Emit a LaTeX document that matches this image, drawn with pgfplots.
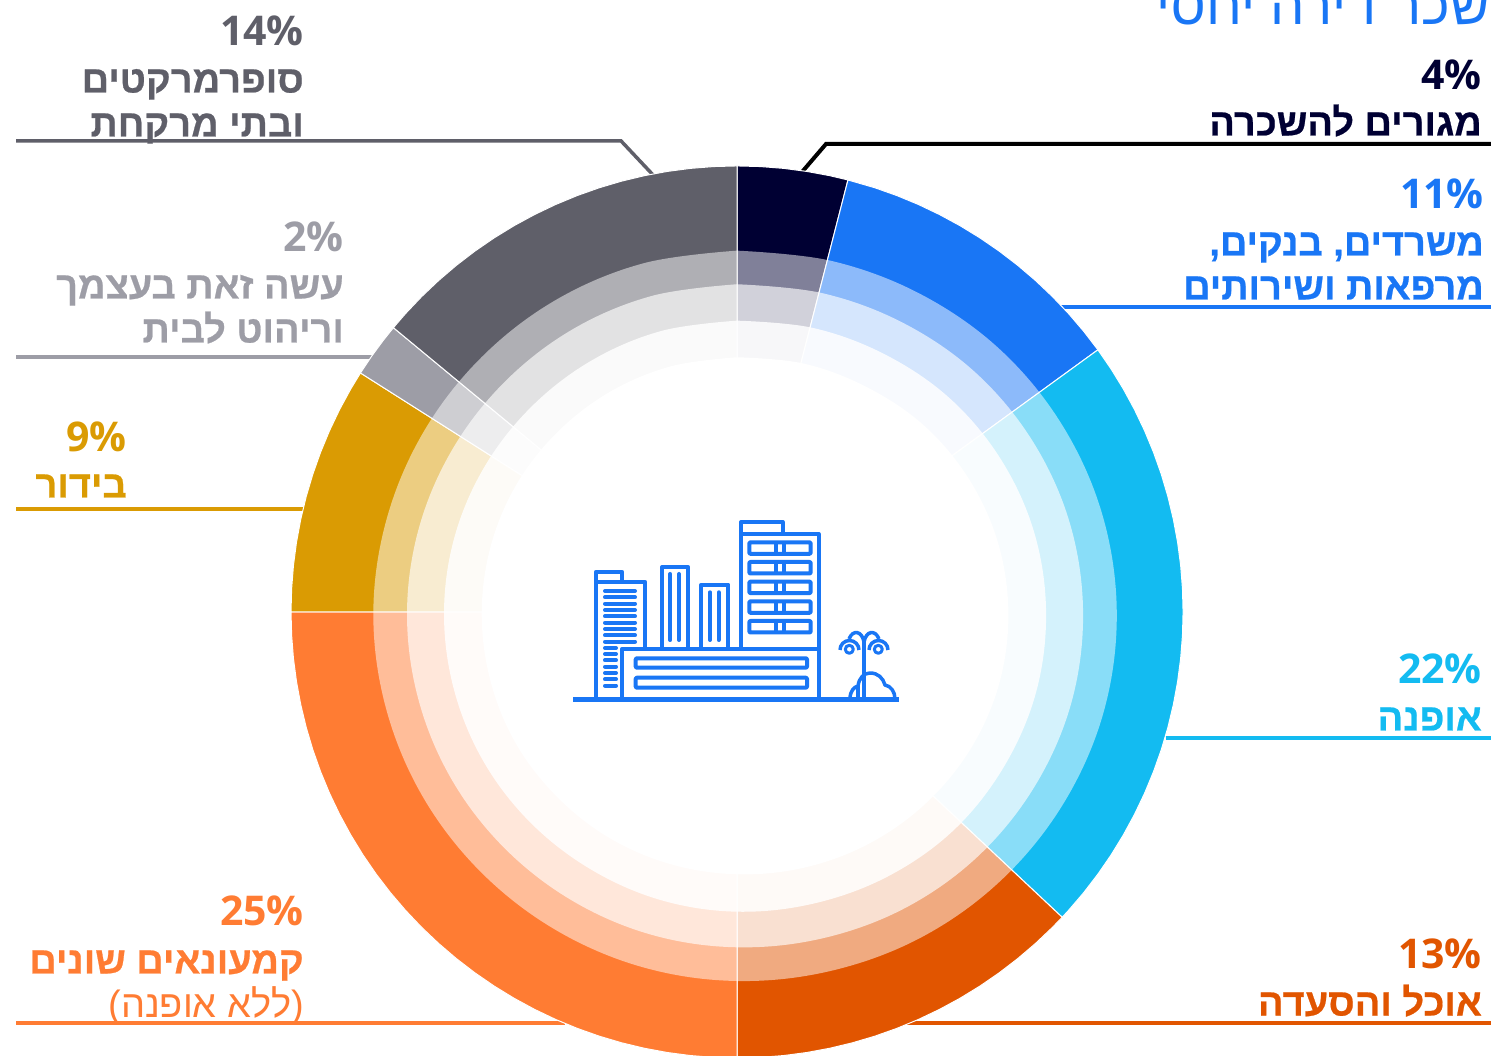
\documentclass[border=0pt]{standalone}
\usepackage{pgfplots}
\usepackage{pgfplotstable}
\usepackage{fontspec}
\pgfplotsset{compat=1.18}
\TeXXeTstate=1
\setmainfont{Open Sans}
\newfontfamily\heb[Script=Hebrew,BoldFeatures={FakeBold=0.6}]{Liberation Sans}
\definecolor{cnavy}{HTML}{000033}
\definecolor{cblue}{HTML}{1976F5}
\definecolor{ccyan}{HTML}{13BBF1}
\definecolor{cdor}{HTML}{E15500}
\definecolor{cora}{HTML}{FF7C33}
\definecolor{cgold}{HTML}{DA9B03}
\definecolor{cgray}{HTML}{9D9DA6}
\definecolor{cdgr}{HTML}{5F5F69}
\pgfplotstableread{
a r1 r2 r3 r4
90 361.3 327.7 291.3 254.7
75 363.5 330 294 257.2
60 367 333.4 297 259.6
45 371.5 337.9 301.5 264
30 375 341.4 304.8 267.3
15 378 344.4 307.6 270
0 379.7 346 309 271.3
-15 380 346.4 309.6 271.8
-30 378.5 345 308.5 270.8
-45 376.5 343.2 307.5 268.9
-60 374 340.5 304.5 266.7
-75 371 337.4 301.5 264.4
-90 369 335.3 299.7 262.3
-105 367.5 333.9 298 260.8
-120 366 332.4 296 259.5
-135 365 331.4 295 258
-150 364.5 330.9 294.3 257.3
-165 364 330.4 293.5 256
-180 363.7 330 293 255.3
-195 362.5 329 292.3 255
-210 361.5 327.8 291.3 254.8
-225 360.8 327 290.5 254.2
-240 360.8 327 290.5 254.2
-255 361 327.3 291 254.4
-270 361.3 327.7 291.3 254.7
}\rings
\newcommand{\pct}[4]{\node[anchor=base east,inner sep=0pt,text=#2] at (#3+2,#4) {\fontsize{41}{50}\selectfont\bfseries #1\%};}
\newcommand{\hb}[4]{\node[anchor=base east,inner sep=0pt,text=#2] at (#3+2,#4+0.5) {\fontsize{38}{44}\selectfont\bfseries\heb\beginR #1\endR};}
\begin{document}
\begin{tikzpicture}[x=1pt,y=1pt]
\path[use as bounding box] (0,0) rectangle (1491,1055);
\begin{axis}[at={(0,0)},anchor=south west,scale only axis,width=1491pt,height=1055pt,
  xmin=-737,xmax=754,ymin=-443,ymax=612,hide axis,enlargelimits=false]
% leader lines
\addplot[black,line width=4pt] coordinates {(754,468) (89,468) (65,440)};
\addplot[cblue,line width=3.5pt] coordinates {(754,305) (324,305)};
\addplot[ccyan,line width=3.5pt] coordinates {(754,-126) (429,-126)};
\addplot[cdor,line width=3.5pt] coordinates {(754,-411) (170,-411)};
\addplot[cora,line width=3.5pt] coordinates {(-721,-411) (-172,-411)};
\addplot[cgold,line width=3.5pt] coordinates {(-721,103) (-434,103)};
\addplot[cgray,line width=3.5pt] coordinates {(-721,255) (-365,255)};
\addplot[cdgr,line width=3.5pt] coordinates {(-721,471) (-116,471) (-84,437)};
% sectors: angle, radius
\pgfplotsset{sec/.style={data cs=polar,draw=white,line width=1pt,no markers}}
\addplot[sec,fill=cnavy] coordinates {(0,0)(90,446)(87,446)(84,446)(81,446)(78,446)(75.6,446)(0,0)};
\addplot[sec,fill=cblue] coordinates {(0,0)(75.6,446)(72,446)(69,446)(66,446)(63,446)(60,446)(57,446)(54,446)(51,446)(48,446)(45,446)(42,446)(39,446)(36,446)(0,0)};
\addplot[sec,fill=ccyan] coordinates {(0,0)(36,446)(33,446)(30,446)(27,446)(24,446)(21,446)(18,446)(15,446)(12,446)(9,446)(6,446)(3,446)(0,446)(-3,446)(-6,446)(-9,446)(-12,446)(-15,446)(-18,446)(-21,446)(-24,446)(-27,446)(-30,446)(-33,446)(-36,446)(-39,446)(-42,446)(-43.2,446)(0,0)};
\addplot[sec,fill=cdor] coordinates {(0,0)(-43.2,446)(-45,446)(-48,446)(-51,446)(-54,446)(-57,446)(-60,446)(-63,446)(-66,446)(-69,446)(-72,446)(-75,446)(-78,446)(-81,446)(-84,446)(-87,446)(-90,446)(0,0)};
\addplot[sec,fill=cora] coordinates {(0,0)(-90,446)(-93,446)(-96,446)(-99,446)(-102,446)(-105,446)(-108,446)(-111,446)(-114,446)(-117,446)(-120,446)(-123,446)(-126,446)(-129,446)(-132,446)(-135,446)(-138,446)(-141,446)(-144,446)(-147,446)(-150,446)(-153,446)(-156,446)(-159,446)(-162,446)(-165,446)(-168,446)(-171,446)(-174,446)(-177,446)(-180,446)(0,0)};
\addplot[sec,fill=cgold] coordinates {(0,0)(180,446)(177,446)(174,446)(171,446)(168,446)(165,446)(162,446)(159,446)(156,446)(153,446)(150,446)(147.6,446)(0,0)};
\addplot[sec,fill=cgray] coordinates {(0,0)(147.6,446)(145,446)(142.5,446)(140.4,446)(0,0)};
\addplot[sec,fill=cdgr] coordinates {(0,0)(140.4,446)(138,446)(135,446)(132,446)(129,446)(126,446)(123,446)(120,446)(117,446)(114,446)(111,446)(108,446)(105,446)(102,446)(99,446)(96,446)(93,446)(90,446)(0,0)};
% translucent rings
\pgfplotsset{rng/.style={data cs=polar,draw=none,fill=white,smooth,tension=0.61,no markers}}
\addplot[rng,fill opacity=0.5] table[x=a,y=r1] {\rings};
\addplot[rng,fill opacity=0.64] table[x=a,y=r2] {\rings};
\addplot[rng,fill opacity=0.84] table[x=a,y=r3] {\rings};
\addplot[rng] table[x=a,y=r4] {\rings};
\end{axis}
% texts and icon in image pixels
\begin{scope}[shift={(0,1055)},x=1pt,y=-1pt]
\node[anchor=base east,inner sep=0pt,text=cblue] at (1490,25) {\fontsize{54.5}{66}\selectfont\heb\beginR שכר דירה יחסי\endR};
\pct{4}{cnavy}{1480}{90}
\hb{מגורים להשכרה}{cnavy}{1480}{135}
\pct{11}{cblue}{1482}{209}
\hb{משרדים, בנקים,}{cblue}{1482}{255}
\hb{מרפאות ושירותים}{cblue}{1482}{299}
\pct{22}{ccyan}{1480}{684}
\hb{אופנה}{ccyan}{1480}{730}
\pct{13}{cdor}{1480}{969}
\hb{אוכל והסעדה}{cdor}{1480}{1015}
\pct{25}{cora}{302}{926}
\hb{קמעונאים שונים}{cora}{302}{973}
\node[anchor=base east,inner sep=0pt,text=cora] at (304,1017.5) {\fontsize{38}{44}\selectfont\heb\beginR (ללא אופנה)\endR};
\pct{9}{cgold}{125}{452}
\hb{בידור}{cgold}{125}{497}
\pct{2}{cgray}{342}{252}
\hb{עשה זאת בעצמך}{cgray}{342}{298}
\hb{וריהוט לבית}{cgray}{342}{342}
\pct{14}{cdgr}{302}{46}
\hb{סופרמרקטים}{cdgr}{302}{92}
\hb{ובתי מרקחת}{cdgr}{302}{136}
% icon
\begin{scope}[draw=cblue,line width=4pt,line join=round]
\draw[line width=4.5pt] (573,699.5) -- (899,699.5);
\draw (741,649) -- (741,522) -- (782.5,522) -- (782.5,534) -- (818.5,534) -- (818.5,699);
\draw (741,534) -- (782.5,534);
\foreach \y in {542.3,562,581.6,601.3,621}{
  \draw[rounded corners=1pt] (749.3,\y) rectangle (810.7,\y+11.5);
  \draw (776.3,\y) -- (776.3,\y+11.5);
  \draw (784,\y) -- (784,\y+11.5);
}
\draw (622.3,699) -- (622.3,648.7) -- (818.5,648.7);
\draw[rounded corners=1pt] (635.7,658.3) rectangle (807,667.7);
\draw[rounded corners=1pt] (635.7,677.7) rectangle (807,687.7);
\draw (595.7,699) -- (595.7,572) -- (622.3,572) -- (622.3,582) -- (645.3,582) -- (645.3,649);
\draw (595.7,582) -- (622.3,582);
\foreach \y in {591,597.3,603.7,610,616.3,622.7,629,635.3,641.7}{\draw[line cap=round] (605,\y) -- (635,\y);}
\foreach \y in {648,654,660.3,666.7,673,679.3,685.7}{\draw[line cap=round] (605,\y) -- (616,\y);}
\draw (662,649) -- (662,567.3) -- (688.3,567.3) -- (688.3,649);
\draw[line cap=round] (670.3,574) -- (670.3,640);
\draw[line cap=round] (679,574) -- (679,640);
\draw (701.3,649) -- (701.3,584.7) -- (728.3,584.7) -- (728.3,649);
\draw[line cap=round] (710,592.3) -- (710,640);
\draw[line cap=round] (718.7,592.3) -- (718.7,640);
\draw[line width=3.5pt] (864,699) -- (864,636);
\draw[line width=3.5pt] (864,642) .. controls (862,631) and (853,629) .. (849,639);
\draw[line width=3.5pt] (864,642) .. controls (866,631) and (875,629) .. (879,639);
\draw[line width=3.5pt] (840,650) arc (180:360:9.5);
\draw[line width=3.5pt] (869,650) arc (180:360:9.5);
\draw[line width=3pt] (849.3,649.3) circle (4);
\draw[line width=3pt] (878.3,649.3) circle (4);
\draw[line width=3.5pt] (850,699) .. controls (850,691) and (854,687) .. (858,686) .. controls (859,678) and (864,673) .. (870,673) .. controls (878,673) and (883,678) .. (885,685) .. controls (891,686) and (895,692) .. (895,699);
\draw[line width=3.5pt] (858,686) .. controls (858,692) and (858,695) .. (858,699);
\end{scope}
\end{scope}
\end{tikzpicture}
\end{document}
